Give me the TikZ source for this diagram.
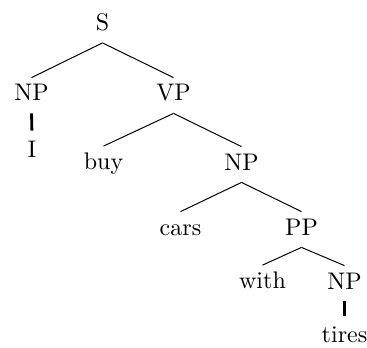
\documentclass[tikz,border=0pt]{standalone}
\usepackage{fontspec}
\usepackage{tikz}
\newfontfamily\treefont{lmroman10-regular}[Extension=.otf]
\tikzstyle{edge}=[
	-,
	draw=black,
	line width=0.5pt
]
\tikzstyle{bar}=[
	edge,
	line width=1.4pt,
	shorten >=1.5pt
]
\tikzstyle{cat}=[
	anchor=base,
	inner sep=0pt,
	text height=11.5pt,
	text depth=6pt,
	font=\treefont\fontsize{12}{14}\selectfont
]
\begin{document}
\begin{tikzpicture}[x=0.5pt, y=-0.5pt]
\useasboundingbox (0,0) rectangle (367,347);

\node[cat] (s) at (102.5,30.5) {S};

\node[cat] (np1) at (31.5,101) {NP};
\node[cat] (vp1) at (173.5,101) {VP};

\node[cat] (i1) at (32,157) {I};
\node[cat] (buy) at (103.5,169.5) {buy};
\node[cat] (np2) at (241.5,170) {NP};

\node[cat] (cars) at (180.5,235) {cars};
\node[cat] (pp1) at (301.5,235) {PP};

\node[cat] (with) at (262.5,288.5) {with};
\node[cat] (np3) at (344.5,289) {NP};

\node[cat] (tires) at (344.5,342) {tires};

\draw[edge] (s.south) to (np1.north);
\draw[edge] (s.south) to (vp1.north);
\draw[bar] (np1.south) to (i1.north);

\draw[edge] (vp1.south) to (buy.north);
\draw[edge] (vp1.south) to (np2.north);

\draw[edge] (np2.south) to (cars.north);
\draw[edge] (np2.south) to (pp1.north);

\draw[edge] (pp1.south) to (with.north);
\draw[edge] (pp1.south) to (np3.north);
\draw[bar] (np3.south) to (tires.north);

\end{tikzpicture}
\end{document}
